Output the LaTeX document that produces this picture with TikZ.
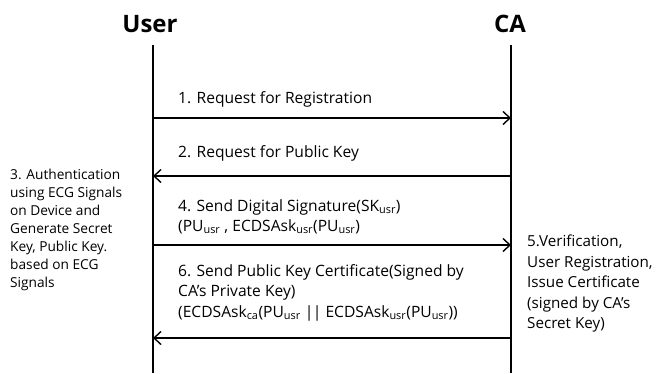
\documentclass[tikz,border=0pt]{standalone}
\usepackage{fontspec}
\setmainfont{Open Sans}
\usetikzlibrary{arrows.meta}
\newcommand{\sub}[1]{\textsubscript{#1}}
\tikzset{
  msg/.style={draw,line width=1.4pt,-{Straight Barb[length=7pt,width=13pt,line width=1.4pt]}},
  lbl/.style={anchor=west,inner sep=0pt,font=\fontsize{15.6}{20.5}\selectfont},
  note/.style={anchor=north west,inner sep=0pt,align=left,font=\fontsize{13.7}{18}\selectfont},
  rnote/.style={note,font=\fontsize{15.2}{20.5}\selectfont},
  actor/.style={font=\fontsize{24}{28}\selectfont\bfseries}
}
\begin{document}
\begin{tikzpicture}[x=1pt,y=-1pt]
\useasboundingbox (0,0) rectangle (656,373);
\node[actor] (User) at (150,24) {User};
\node[actor] (CA) at (510,24) {CA};
% life lines
\coordinate (ut) at (153,45);
\coordinate (ub) at (153,373);
\coordinate (ct) at (511,45);
\coordinate (cb) at (511,373);
\draw[line width=1.4pt] (ut) -- (ub);
\draw[line width=1.4pt] (ct) -- (cb);
% message ends
\coordinate (u1) at (153,118); \coordinate (c1) at (511,118);
\coordinate (u2) at (153,176); \coordinate (c2) at (511,176);
\coordinate (u4) at (153,245); \coordinate (c4) at (511,245);
\coordinate (u6) at (153,338); \coordinate (c6) at (511,338);
\draw[msg] (u1) -- (c1);
\draw[msg] (c2) -- (u2);
\draw[msg] (u4) -- (c4);
\draw[msg] (c6) -- (u6);
\node[lbl] (m1) at (178,99) {1. Request for Registration};
\node[lbl] (m2) at (178,153) {2. Request for Public Key};
\node[lbl] (m4a) at (178,207) {4. Send Digital Signature(SK\sub{usr})};
\node[lbl] (m4b) at (178,227) {(PU\sub{usr} ,\ ECDSAsk\sub{usr}(PU\sub{usr})};
\node[lbl] (m6a) at (178,272) {6. Send Public Key Certificate(Signed by};
\node[lbl] (m6b) at (178,293) {CA’s Private Key)};
\node[lbl] (m6c) at (178,313) {(ECDSAsk\sub{ca}(PU\sub{usr} |\kern-0.5pt| ECDSAsk\sub{usr}(PU\sub{usr}))};
% side notes
\node[note] (auth) at (10,169) {3. Authentication\\using ECG Signals\\on Device and\\Generate Secret\\Key, Public Key.\\based on ECG\\Signals};
\node[rnote] (verif) at (527,235) {5.Verification,\\User Registration,\\Issue Certificate\\(signed by CA’s\\Secret Key)};
\end{tikzpicture}
\end{document}
